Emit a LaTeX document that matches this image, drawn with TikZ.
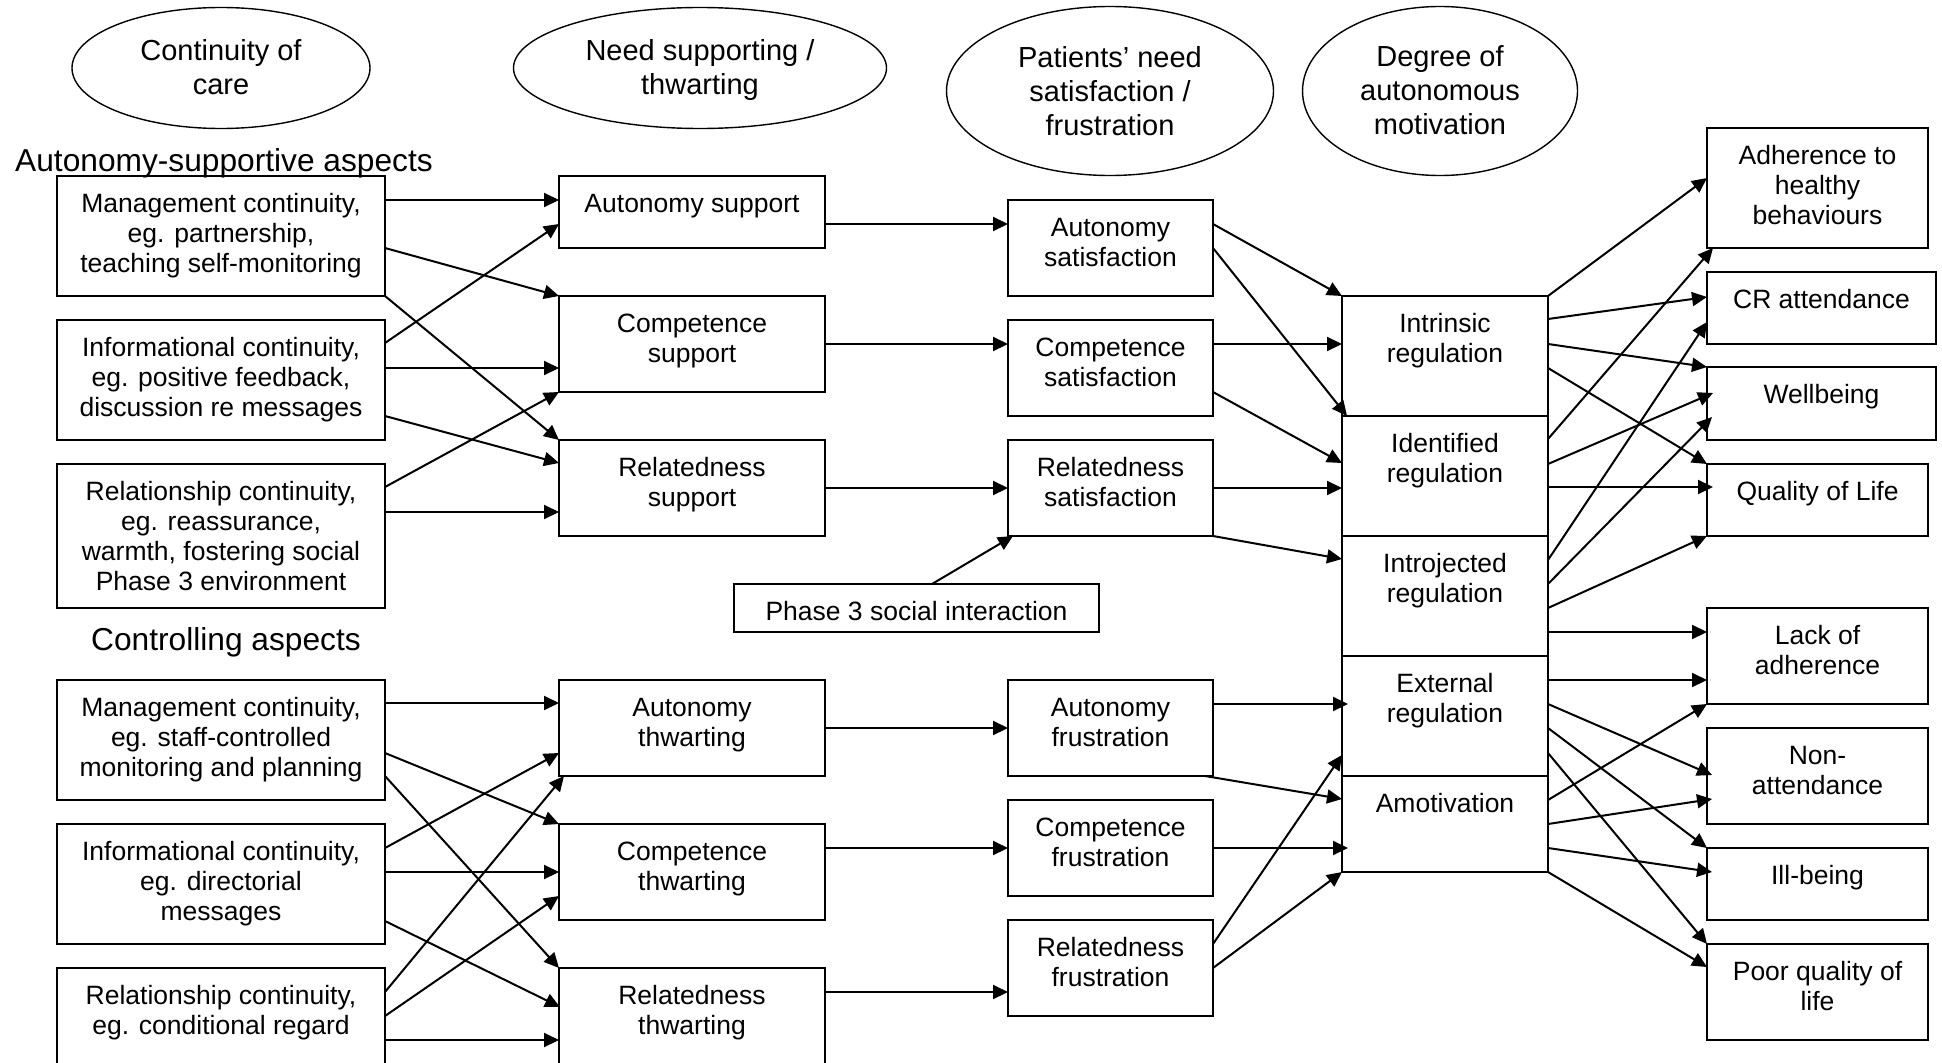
\documentclass[tikz,border=0pt]{standalone}
\usepackage{fontspec}
\setmainfont{Liberation Sans}
\usetikzlibrary{arrows.meta,calc,shapes.geometric}
\tikzset{
  boxst/.style={draw, line width=1.8pt, inner sep=0pt, outer sep=0pt},
  boxtxt/.style={font=\fontsize{26.5}{30}\selectfont, align=center, inner sep=0pt},
  ellst/.style={ellipse, draw, line width=1.4pt, inner sep=0pt, outer sep=0pt},
  elltxt/.style={font=\fontsize{29}{34}\selectfont, align=center, inner sep=0pt, anchor=north},
  sectxt/.style={font=\fontsize{31.7}{36}\selectfont, inner sep=0pt, anchor=base west},
  arr/.style={draw, line width=2pt, -{Triangle[length=15pt,width=14pt]}}
}
\newcommand\mkbox[6]{%
  \node[boxst, minimum width={(#4)-(#2)}, minimum height={(#5)-(#3)}, anchor=north west] (#1) at (#2,#3) {};
  \node[boxtxt, anchor=north] (#1-t) at ([yshift=-16pt]#1.north) {\rule{0pt}{20pt}#6};
}
\begin{document}
\begin{tikzpicture}[x=1pt,y=-1pt]
\useasboundingbox (0,0) rectangle (1942,1062);
\fill[white] (0,0) rectangle (1942,1062);
\clip (0,0) rectangle (1942,1062);

% ellipses
\node[ellst, minimum width=298, minimum height=121] (e1) at (221,68) {};
\node[elltxt] (e1-t) at (221,38) {\rule{0pt}{22pt}Continuity of\\care};
\node[ellst, minimum width=373, minimum height=121] (e2) at (700,68) {};
\node[elltxt] (e2-t) at (700,38) {\rule{0pt}{22pt}Need supporting /\\thwarting};
\node[ellst, minimum width=327, minimum height=169] (e3) at (1110,91) {};
\node[elltxt] (e3-t) at (1110,45) {\rule{0pt}{22pt}Patients’ need\\satisfaction /\\frustration};
\node[ellst, minimum width=275, minimum height=169] (e4) at (1440,91) {};
\node[elltxt] (e4-t) at (1440,44) {\rule{0pt}{22pt}Degree of\\autonomous\\motivation};

% section labels
\node[sectxt] (sec1) at (15,171) {Autonomy-supportive aspects};
\node[sectxt] (sec2) at (91,650) {Controlling aspects};

% column 1
\mkbox{mca}{57}{176}{385}{296}{Management continuity,\\eg. partnership,\\teaching self-monitoring}
\mkbox{ica}{57}{320}{385}{440}{Informational continuity,\\eg. positive feedback,\\discussion re messages}
\mkbox{rca}{57}{464}{385}{608}{Relationship continuity,\\eg. reassurance,\\warmth, fostering social\\Phase 3 environment}
\mkbox{mcb}{57}{680}{385}{800}{Management continuity,\\eg. staff-controlled\\monitoring and planning}
\mkbox{icb}{57}{824}{385}{944}{Informational continuity,\\eg. directorial\\messages}
\mkbox{rcb}{57}{968}{385}{1090}{Relationship continuity,\\eg. conditional regard}

% column 2
\mkbox{as}{559}{176}{825}{248}{Autonomy support}
\mkbox{cs}{559}{296}{825}{392}{Competence\\support}
\mkbox{rs}{559}{440}{825}{536}{Relatedness\\support}
\mkbox{at}{559}{680}{825}{776}{Autonomy\\thwarting}
\mkbox{ct}{559}{824}{825}{920}{Competence\\thwarting}
\mkbox{rt}{559}{968}{825}{1090}{Relatedness\\thwarting}

% column 3
\mkbox{asat}{1008}{200}{1213}{296}{Autonomy\\satisfaction}
\mkbox{csat}{1008}{320}{1213}{416}{Competence\\satisfaction}
\mkbox{rsat}{1008}{440}{1213}{536}{Relatedness\\satisfaction}
\mkbox{pthree}{734}{584}{1099}{632}{Phase 3 social interaction}
\mkbox{afr}{1008}{680}{1213}{776}{Autonomy\\frustration}
\mkbox{cfr}{1008}{800}{1213}{896}{Competence\\frustration}
\mkbox{rfr}{1008}{920}{1213}{1016}{Relatedness\\frustration}

% column 4
\mkbox{intr}{1342}{296}{1548}{416}{Intrinsic\\regulation}
\mkbox{iden}{1342}{416}{1548}{536}{Identified\\regulation}
\mkbox{intro}{1342}{536}{1548}{656}{Introjected\\regulation}
\mkbox{ext}{1342}{656}{1548}{776}{External\\regulation}
\mkbox{amot}{1342}{776}{1548}{872}{Amotivation}

% column 5
\mkbox{adh}{1707}{128}{1928}{248}{Adherence to\\healthy\\behaviours}
\mkbox{cra}{1707}{272}{1936}{344}{CR attendance}
\mkbox{wb}{1707}{367}{1936}{440}{Wellbeing}
\mkbox{qol}{1707}{464}{1928}{536}{Quality of Life}
\mkbox{lack}{1707}{608}{1928}{704}{Lack of\\adherence}
\mkbox{non}{1707}{728}{1928}{824}{Non-\\attendance}
\mkbox{ill}{1707}{848}{1928}{920}{Ill-being}
\mkbox{pqol}{1707}{944}{1928}{1040}{Poor quality of\\life}

% column 1 -> 2 (top)
\draw[arr] ($(mca.north east)+(0,24)$) -- ($(as.north west)+(0,24)$);
\draw[arr] ($(mca.north east)+(0,72)$) -- (cs.north west);
\draw[arr] (mca.south east) -- (rs.north west);
\draw[arr] ($(ica.north east)+(0,23)$) -- ($(as.north west)+(0,48)$);
\draw[arr] ($(ica.north east)+(0,48)$) -- ($(cs.north west)+(0,72)$);
\draw[arr] ($(ica.north east)+(0,96)$) -- ($(rs.north west)+(0,23)$);
\draw[arr] ($(rca.north east)+(0,23)$) -- (cs.south west);
\draw[arr] ($(rca.north east)+(0,48)$) -- ($(rs.north west)+(0,72)$);

% column 2 -> 3 (top)
\draw[arr] ($(as.north east)+(0,48)$) -- ($(asat.north west)+(0,24)$);
\draw[arr] ($(cs.north east)+(0,48)$) -- ($(csat.north west)+(0,24)$);
\draw[arr] ($(rs.north east)+(0,48)$) -- ($(rsat.north west)+(0,48)$);
\draw[arr] ($(pthree.north west)+(198,0)$) -- ($(rsat.south west)+(5,0)$);

% column 3 -> 4 (top)
\draw[arr] ($(asat.north east)+(0,24)$) -- (intr.north west);
\draw[arr] ($(asat.north east)+(0,48)$) -- ($(iden.north west)+(5,0)$);
\draw[arr] ($(csat.north east)+(0,24)$) -- ($(intr.north west)+(0,48)$);
\draw[arr] ($(csat.north east)+(0,72)$) -- ($(iden.north west)+(0,47)$);
\draw[arr] ($(rsat.north east)+(0,48)$) -- ($(iden.north west)+(0,72)$);
\draw[arr] (rsat.south east) -- ($(intro.north west)+(0,23)$);

% column 1 -> 2 (bottom)
\draw[arr] ($(mcb.north east)+(0,23)$) -- ($(at.north west)+(0,23)$);
\draw[arr] ($(mcb.north east)+(0,73)$) -- (ct.north west);
\draw[arr] ($(mcb.north east)+(0,96)$) -- (rt.north west);
\draw[arr] ($(icb.north east)+(0,24)$) -- ($(at.north west)+(0,73)$);
\draw[arr] ($(icb.north east)+(0,48)$) -- ($(ct.north west)+(0,48)$);
\draw[arr] ($(icb.north east)+(0,97)$) -- ($(rt.north west)+(1,39)$);
\draw[arr] ($(rcb.north east)+(0,24)$) -- ($(at.south west)+(5,0)$);
\draw[arr] ($(rcb.north east)+(0,48)$) -- ($(ct.north west)+(0,72)$);
\draw[arr] ($(rcb.north east)+(0,72)$) -- ($(rt.north west)+(0,72)$);

% column 2 -> 3 (bottom)
\draw[arr] ($(at.north east)+(0,48)$) -- ($(afr.north west)+(0,48)$);
\draw[arr] ($(ct.north east)+(0,24)$) -- ($(cfr.north west)+(0,48)$);
\draw[arr] ($(rt.north east)+(0,24)$) -- ($(rfr.north west)+(0,72)$);

% column 3 -> 4 (bottom)
\draw[arr] ($(afr.north east)+(0,24)$) -- ($(ext.north west)+(6,48)$);
\draw[arr] ($(afr.south east)+(-8,0)$) -- ($(amot.north west)+(0,23)$);
\draw[arr] ($(cfr.north east)+(0,48)$) -- ($(amot.north west)+(6,72)$);
\draw[arr] ($(rfr.north east)+(0,24)$) -- ($(ext.north west)+(0,99)$);
\draw[arr] ($(rfr.north east)+(0,48)$) -- (amot.south west);

% column 4 -> 5
\draw[arr] (intr.north east) -- ($(adh.north west)+(0,50)$);
\draw[arr] ($(intr.north east)+(0,23)$) -- ($(cra.north west)+(0,25)$);
\draw[arr] ($(intr.north east)+(0,48)$) -- (wb.north west);
\draw[arr] ($(intr.north east)+(0,72)$) -- (qol.north west);
\draw[arr] ($(iden.north east)+(0,23)$) -- ($(adh.south west)+(6,0)$);
\draw[arr] ($(iden.north east)+(0,48)$) -- ($(wb.north west)+(6,26)$);
\draw[arr] ($(iden.north east)+(0,71)$) -- ($(qol.north west)+(6,23)$);
\draw[arr] ($(intro.north east)+(0,24)$) -- ($(cra.north west)+(0,50)$);
\draw[arr] ($(intro.north east)+(0,48)$) -- ($(wb.north west)+(5,50)$);
\draw[arr] ($(intro.north east)+(0,72)$) -- (qol.south west);
\draw[arr] ($(intro.north east)+(0,96)$) -- ($(lack.north west)+(0,24)$);
\draw[arr] ($(ext.north east)+(0,24)$) -- ($(lack.north west)+(0,72)$);
\draw[arr] ($(ext.north east)+(0,48)$) -- ($(non.north west)+(5,47)$);
\draw[arr] ($(ext.north east)+(0,72)$) -- (ill.north west);
\draw[arr] ($(ext.north east)+(0,97)$) -- (pqol.north west);
\draw[arr] ($(amot.north east)+(0,24)$) -- (lack.south west);
\draw[arr] ($(amot.north east)+(0,48)$) -- ($(non.north west)+(5,71)$);
\draw[arr] ($(amot.north east)+(0,72)$) -- ($(ill.north west)+(5,24)$);
\draw[arr] (amot.south east) -- ($(pqol.north west)+(0,23)$);
\end{tikzpicture}
\end{document}
